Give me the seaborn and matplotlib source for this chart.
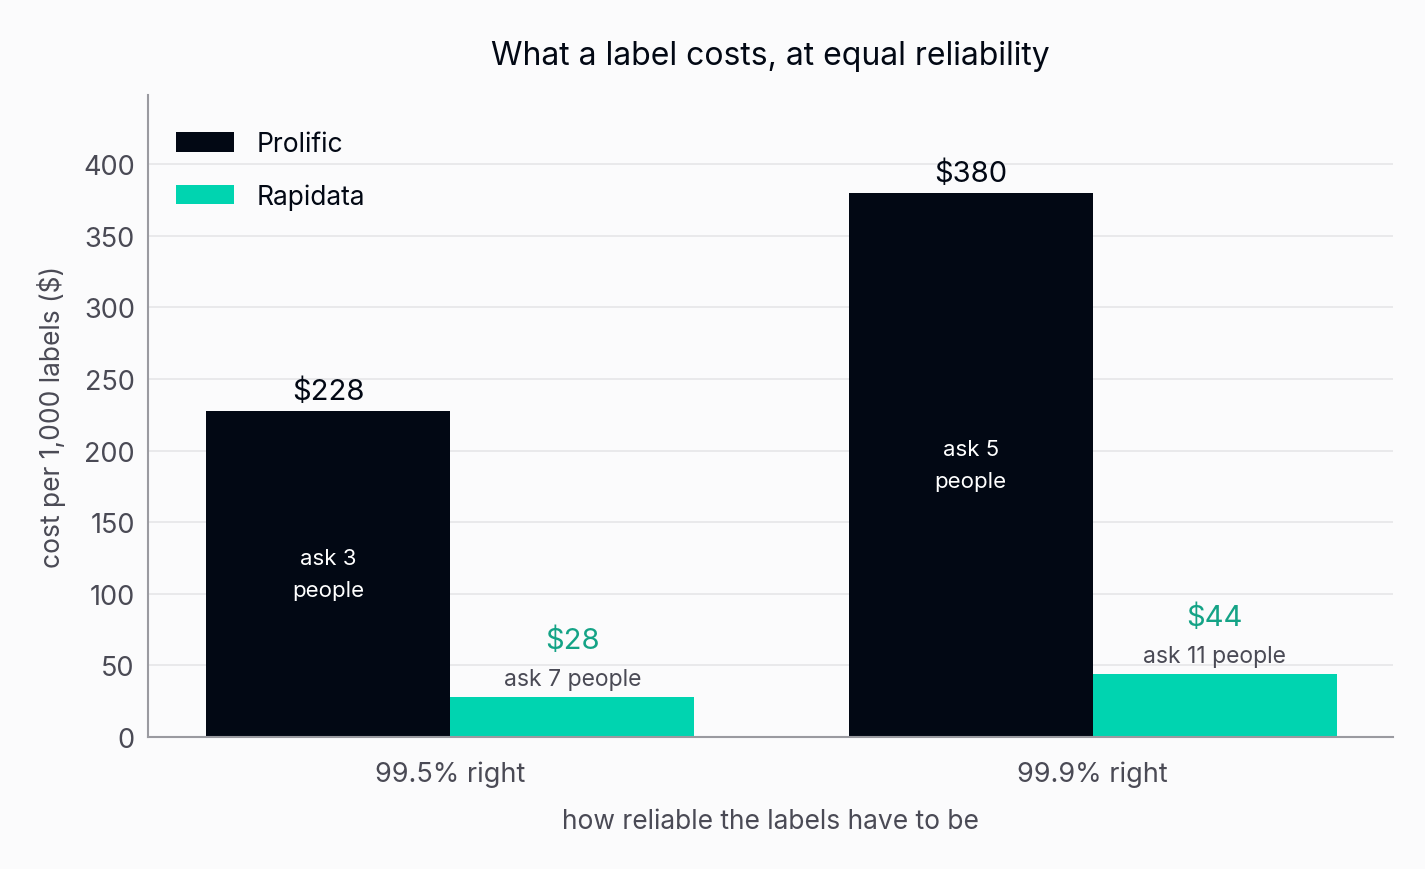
import pandas as pd
import matplotlib.pyplot as plt
import seaborn as sns

# values
reliability = ['99.5% right', '99.9% right']
providers = ['Prolific', 'Rapidata']
prolific_cost = [228, 380]
rapidata_cost = [28, 44]
prolific_people = [3, 5]
rapidata_people = [7, 11]

df = pd.DataFrame({
    'reliability': reliability * 2,
    'provider': ['Prolific'] * 2 + ['Rapidata'] * 2,
    'cost': prolific_cost + rapidata_cost,
})

bg = '#fbfbfc'
dark = '#020814'
teal = '#00d4b0'
teal_text = '#14a386'
grey_text = '#4a4a55'

sns.set_theme(style='whitegrid')
plt.rcParams['font.family'] = ['Inter', 'DejaVu Sans']

fig = plt.figure(figsize=(14.25, 8.7), dpi=100, facecolor=bg)
ax = fig.add_axes([0.1039, 0.1517, 0.8736, 0.738])
ax.set_facecolor(bg)

sns.barplot(data=df, x='reliability', y='cost', hue='provider',
            palette=[dark, teal], width=0.76, saturation=1, ax=ax,
            order=reliability, hue_order=providers, linewidth=0)

ax.set_xlim(-0.47, 1.467)
ax.set_ylim(0, max(prolific_cost) * 1.18)
ax.set_yticks(range(0, 401, 50))

# annotations
for i in range(len(reliability)):
    xp = i - 0.19
    xr = i + 0.19
    ax.text(xp, prolific_cost[i] + 4, f'${prolific_cost[i]}', ha='center',
            va='bottom', fontsize=21, color=dark)
    ax.text(xp, prolific_cost[i] / 2, f'ask {prolific_people[i]}\npeople',
            ha='center', va='center', fontsize=16, color='white',
            linespacing=1.75)
    ax.text(xr, rapidata_cost[i] + 5, f'ask {rapidata_people[i]} people',
            ha='center', va='bottom', fontsize=16.5, color=grey_text)
    ax.text(xr, rapidata_cost[i] + 30, f'${rapidata_cost[i]}', ha='center',
            va='bottom', fontsize=21, color=teal_text)

ax.set_title('What a label costs, at equal reliability', fontsize=23,
             color=dark, pad=22)
ax.set_xlabel('how reliable the labels have to be', fontsize=19,
              color=grey_text, labelpad=15)
ax.set_ylabel('cost per 1,000 labels ($)', fontsize=19, color=grey_text,
              labelpad=12)

ax.grid(axis='x', visible=False)
ax.grid(axis='y', color='#e6e6e8', linewidth=1.2)
ax.set_axisbelow(True)
for side in ['top', 'right']:
    ax.spines[side].set_visible(False)
for side in ['left', 'bottom']:
    ax.spines[side].set_color('#9a9aa0')
    ax.spines[side].set_linewidth(1.5)
ax.tick_params(axis='both', colors='#5a5a64', labelcolor=grey_text,
               labelsize=19.5, length=6, width=1.5, direction='out')
ax.tick_params(axis='x', pad=11)

leg = ax.legend(loc='upper left', bbox_to_anchor=(0.0, 0.9875),
                frameon=False, fontsize=19,
                handlelength=2.2, handleheight=0.76, handletextpad=0.87,
                labelspacing=1.0, borderaxespad=0.66, labelcolor=dark)
leg.set_title(None)

plt.savefig('out.png', dpi=100, facecolor=bg)
